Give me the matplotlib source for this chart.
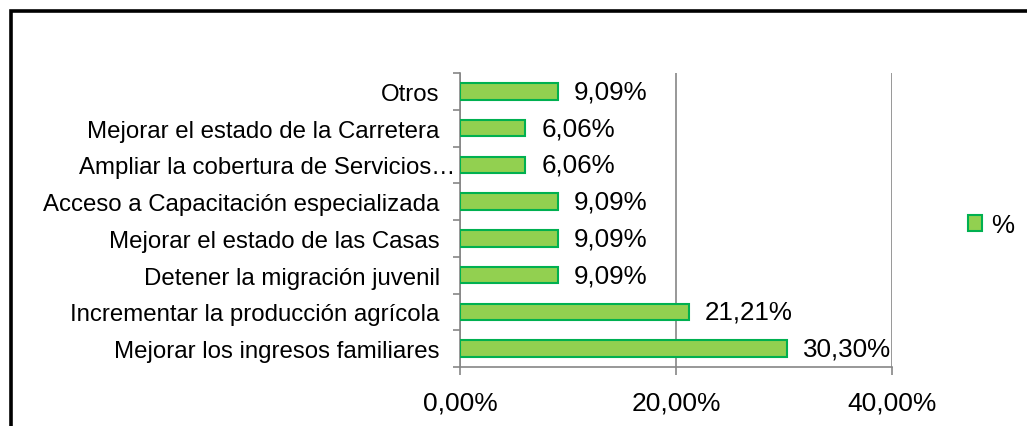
import numpy as np
import matplotlib.pyplot as plt
import matplotlib.transforms as mtransforms
from matplotlib.patches import Rectangle
from matplotlib.ticker import FuncFormatter, FixedLocator

plt.rcParams['font.family'] = ['Liberation Sans', 'DejaVu Sans']

categorias = [
    "Mejorar los ingresos familiares",
    "Incrementar la producción agrícola",
    "Detener la migración juvenil",
    "Mejorar el estado de las Casas",
    "Acceso a Capacitación especializada",
    "Ampliar la cobertura de Servicios…",
    "Mejorar el estado de la Carretera",
    "Otros",
]
valores = [30.30, 21.21, 9.09, 9.09, 9.09, 6.06, 6.06, 9.09]
xticks = [0, 20, 40]
serie = "%"

W, H = 1027, 427
fig = plt.figure(figsize=(W / 100, H / 100), dpi=100)
ax = fig.add_axes([460 / W, 1 - 368 / H, (892 - 460) / W, (368 - 74) / H])

grid_c = "#868686"
y = np.arange(len(categorias))
bars = ax.barh(y, valores, height=0.45, color="#92D050", edgecolor="#00B050",
               linewidth=1.5, label=serie, zorder=3)

for yi, v in zip(y, valores):
    ax.annotate(f"{v:.2f}%".replace(".", ","), (v, yi), xytext=(11.5, 0),
                textcoords="offset points", va="center", ha="left", fontsize=18.7)

ax.set_xlim(0, 40)
ax.set_ylim(-0.5, len(categorias) - 0.5)
ax.set_xticks(xticks)
ax.xaxis.set_major_formatter(FuncFormatter(lambda v, p: f"{v:.2f}%".replace(".", ",")))
ax.tick_params(axis="x", length=6, color=grid_c, width=1.2, labelsize=19, pad=11)

ax.set_yticks(y)
ax.set_yticklabels(categorias, fontsize=17.3)
ax.tick_params(axis="y", length=0, pad=14.5)
ax.yaxis.set_minor_locator(FixedLocator(np.arange(-0.5, len(categorias), 1.0)))
ax.tick_params(axis="y", which="minor", length=5, color=grid_c, width=1.2)

# la etiqueta truncada llega casi hasta el eje
lbl = ax.get_yticklabels()[5]
lbl.set_transform(lbl.get_transform() + mtransforms.ScaledTranslation(15 / 100, 0, fig.dpi_scale_trans))

ax.grid(axis="x", color=grid_c, linewidth=1.2, zorder=0)
for s in ["top", "right"]:
    ax.spines[s].set_visible(False)
for s in ["left", "bottom"]:
    ax.spines[s].set_color(grid_c)
    ax.spines[s].set_linewidth(1.2)

fig.legend(handles=[bars], labels=[serie], loc="center left",
           bbox_to_anchor=(968 / W, 1 - 226 / H), frameon=False, fontsize=18.7,
           borderpad=0, borderaxespad=0, handlelength=0.55, handleheight=0.55,
           handletextpad=0.35)

# marco exterior del grafico
fig.patches.append(Rectangle((10.5 / W, -0.2), 1.2, 1.2 - 12 / H, transform=fig.transFigure,
                             fill=False, edgecolor="black", linewidth=2.6))

fig.savefig("out.png", dpi=100)
